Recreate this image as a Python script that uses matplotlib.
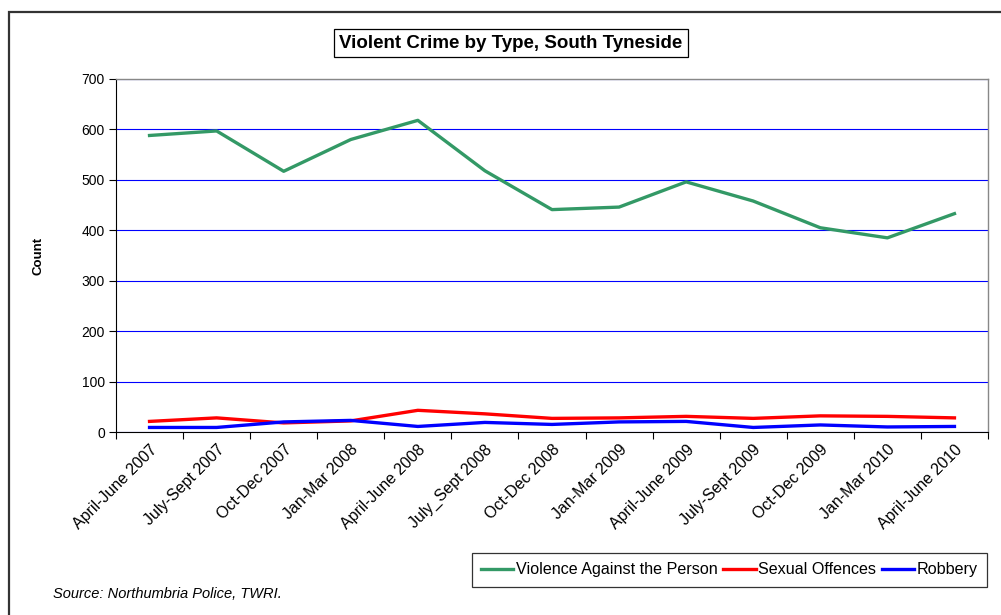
import matplotlib
matplotlib.use('Agg')
from matplotlib import pyplot as plt
from matplotlib.patches import Rectangle

plt.rcParams['font.family'] = ['Liberation Sans', 'DejaVu Sans']

quarters = ['April-June 2007', 'July-Sept 2007', 'Oct-Dec 2007', 'Jan-Mar 2008',
            'April-June 2008', 'July_Sept 2008', 'Oct-Dec 2008', 'Jan-Mar 2009',
            'April-June 2009', 'July-Sept 2009', 'Oct-Dec 2009', 'Jan-Mar 2010',
            'April-June 2010']
violence = [588, 597, 517, 580, 618, 518, 441, 446, 496, 458, 405, 385, 433]
sexual   = [21, 28, 18, 22, 43, 36, 27, 28, 31, 27, 32, 31, 28]
robbery  = [9, 9, 20, 23, 11, 19, 15, 20, 21, 9, 14, 10, 11]

W, H = 1001, 615
fig = plt.figure(figsize=(W / 100, H / 100), dpi=100)

# outer chart frame (runs off the right and bottom edges)
fig.patches.append(Rectangle((9 / W, -0.1), 1.2, 1.1 - 12 / H, transform=fig.transFigure,
                             fill=False, edgecolor='#333333', linewidth=1.6))

ax = fig.add_axes([116 / W, 1 - 432 / H, 872 / W, 353 / H])
x = list(range(len(quarters)))
ax.plot(x, violence, color='#339966', lw=2.4, label='Violence Against the Person')
ax.plot(x, sexual, color='#ff0000', lw=2.4, label='Sexual Offences')
ax.plot(x, robbery, color='#0000ff', lw=2.4, label='Robbery')

ax.set_xlim(-0.5, len(quarters) - 0.5)
ax.set_ylim(0, 700)
ax.set_yticks(range(0, 701, 100))
ax.yaxis.grid(True, color='#0000ff', lw=0.8)
ax.set_axisbelow(True)

ax.set_xticks([i - 0.5 for i in range(len(quarters) + 1)])
ax.set_xticklabels([])
ax.set_xticks(x, minor=True)
ax.set_xticklabels(quarters, minor=True, rotation=45, ha='right', rotation_mode='anchor',
                   fontsize=11.5)
ax.tick_params(axis='x', which='minor', length=0, pad=7)
ax.tick_params(axis='x', which='major', length=5, direction='out', color='black')
ax.tick_params(axis='y', length=5, direction='out', labelsize=10, pad=3)

for side in ['top', 'right']:
    ax.spines[side].set_color('#888888')
    ax.spines[side].set_linewidth(1)
ax.spines['left'].set_color('black')
ax.spines['bottom'].set_color('black')

ax.set_ylabel('Count', fontsize=9.5, fontweight='bold', labelpad=27)

fig.text(511 / W, 1 - 43 / H, 'Violent Crime by Type, South Tyneside', ha='center', va='center',
         fontsize=13.5, fontweight='bold',
         bbox=dict(boxstyle='square,pad=0.3', facecolor='white', edgecolor='black', lw=0.9))

fig.text(53 / W, 1 - 594 / H, 'Source: Northumbria Police, TWRI.', fontsize=10.5, style='italic',
         va='center')

leg = fig.legend(loc='lower right', bbox_to_anchor=(987 / W, 1 - 587 / H), ncol=3, fontsize=11.6,
                 frameon=True, fancybox=False, edgecolor='black', handlelength=2.0,
                 handletextpad=0.15, columnspacing=0.35, borderpad=0.6, borderaxespad=0)
leg.get_frame().set_linewidth(0.9)

fig.savefig('out.png', dpi=100)
